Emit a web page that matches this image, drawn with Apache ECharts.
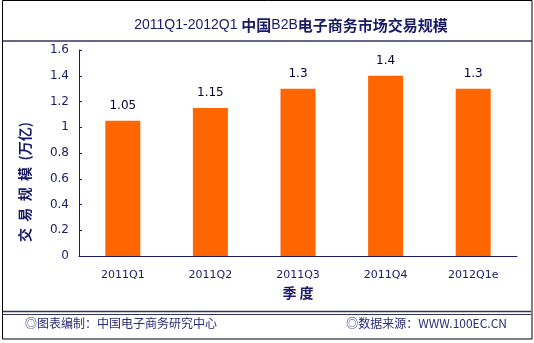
<!DOCTYPE html>
<html><head><meta charset="utf-8">
<script src="https://cdn.jsdelivr.net/npm/echarts@6/dist/echarts.min.js"></script>
<style>html,body{margin:0;padding:0;background:#fff}#c{width:534px;height:343px}</style>
</head><body><div id="c"></div>
<script>
const categories = ['2011Q1','2011Q2','2011Q3','2011Q4','2012Q1e'];
const values = [1.05, 1.15, 1.3, 1.4, 1.3];
const valueLabels = ['1.05','1.15','1.3','1.4','1.3'];
const yTicks = [0, 0.2, 0.4, 0.6, 0.8, 1, 1.2, 1.4, 1.6];

const navy = '#1a1a66';
const chart = echarts.init(document.getElementById('c'), null, {renderer:'canvas'});
chart.setOption({
  backgroundColor: '#fff',
  animation: false,
  title: {
    text: '{n|2011Q1-2012Q1 }{b|中国}{n|B2B}{b|电子商务市场交易规模}',
    left: 286, top: 13, textAlign: 'center',
    textStyle: {
      rich: {
        n: {fontSize: 14, color: navy, fontFamily: 'Liberation Sans', fontWeight: 'normal'},
        b: {fontSize: 15, color: navy, fontFamily: 'Noto Sans CJK SC', fontWeight: 'bold'}
      }
    }
  },
  grid: {left: 79, right: 17, top: 50, bottom: 87},
  xAxis: {
    type: 'category', data: categories,
    name: '季 度', nameLocation: 'middle', nameGap: 30,
    nameTextStyle: {fontSize: 14, fontWeight: 'bold', color: navy, fontFamily: 'Noto Sans CJK SC'},
    axisLine: {lineStyle: {color: navy, width: 1}},
    axisTick: {inside: true, length: 4, alignWithLabel: false, lineStyle: {color: navy}},
    axisLabel: {margin: 14, fontSize: 11, color: navy, fontFamily: 'DejaVu Sans'}
  },
  yAxis: {
    type: 'value', min: 0, max: 1.6, interval: 0.2,
    axisLine: {show: true, lineStyle: {color: navy, width: 1}},
    axisTick: {show: true, inside: true, length: 3, lineStyle: {color: navy}},
    splitLine: {show: false},
    axisLabel: {margin: 10, fontSize: 12, color: navy, fontFamily: 'DejaVu Sans',
      formatter: v => { const s = yTicks.find(t => Math.abs(t - v) < 1e-9); return s === undefined ? '' : String(s); }}
  },
  series: [{
    type: 'bar', data: values, barWidth: 35,
    itemStyle: {color: '#ff6600'},
    label: {show: true, position: 'top', distance: 9, fontSize: 12, color: '#000033', fontFamily: 'DejaVu Sans',
      formatter: p => valueLabels[p.dataIndex]}
  }],
  graphic: [
    {type: 'rect', shape: {x: 2.5, y: 0.5, width: 529.5, height: 338.5}, style: {fill: 'none', stroke: '#000', lineWidth: 1}, silent: true},
    {type: 'line', shape: {x1: 3, y1: 41, x2: 532, y2: 41}, style: {stroke: '#33335e', lineWidth: 1.5}},
    {type: 'line', shape: {x1: 3, y1: 311.5, x2: 531, y2: 311.5}, style: {stroke: '#33335e', lineWidth: 1.5}},
    {type: 'line', shape: {x1: 3, y1: 314.5, x2: 531, y2: 314.5}, style: {stroke: '#33335e', lineWidth: 1}},
    {type: 'text', x: 25, y: 182, rotation: Math.PI / 2,
      style: {text: '交  易  规  模  (万亿)', align: 'center', verticalAlign: 'middle', fontSize: 14, fontWeight: 'bold', fill: navy, fontFamily: 'Noto Sans CJK SC'}},
    {type: 'text', x: 25, y: 317, style: {text: '◎图表编制：中国电子商务研究中心', fontSize: 12, fill: '#2b2b77', fontFamily: 'Noto Sans CJK SC'}},
    {type: 'text', x: 507, y: 317, style: {text: '◎数据来源：WWW.100EC.CN', align: 'right', fontSize: 12, fill: '#2b2b77', fontFamily: 'Noto Sans CJK SC'}}
  ]
});
</script></body></html>
